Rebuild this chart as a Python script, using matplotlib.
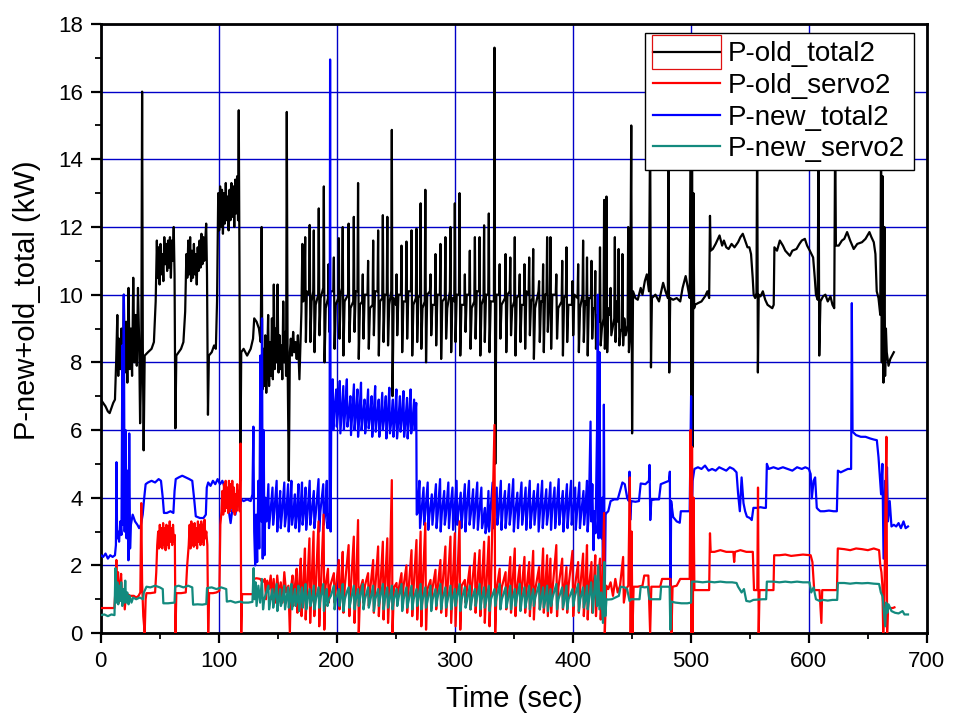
import matplotlib
matplotlib.use("Agg")
import matplotlib.pyplot as plt
import numpy as np
from matplotlib.patches import Rectangle
from matplotlib.ticker import MultipleLocator

plt.rcParams["font.family"] = ["Liberation Sans", "DejaVu Sans"]

# ---------------------------------------------------------------------------
# Data: (time in sec, power in kW)
# ---------------------------------------------------------------------------

OLD_TOTAL2 = [
    (0, 6.9), (2, 6.8), (4, 6.7), (6, 6.55), (7.5, 6.5), (9, 6.65), (10.5, 6.8), (12, 6.9),
    (13, 8.0), (14, 9.4), (14.8, 7.6), (15.5, 8.7), (16.5, 7.8), (17.5, 9.0), (18.5, 7.5),
    (19.5, 10.0), (20.5, 7.7), (21.5, 9.2), (22.5, 7.4), (23.5, 10.2), (24.5, 7.8), (25.5, 9.0),
    (26.5, 7.6), (27.5, 10.5), (28.5, 8.0), (29.5, 9.4), (30.5, 7.9), (31.5, 10.2), (32.5, 8.6),
    (33.3, 6.2), (34.3, 8.0), (35, 16.0), (35.6, 8.5), (36.3, 5.4), (37.2, 8.2), (40, 8.3),
    (43, 8.4), (45, 8.6), (46.5, 9.8), (47.5, 11.6), (48.2, 10.5), (49, 11.4), (49.8, 10.3),
    (50.6, 11.5), (51.4, 10.6), (52.2, 11.2), (53, 10.4), (53.8, 11.7), (54.6, 10.9), (55.4, 11.5),
    (56.2, 10.7), (57, 11.6), (57.8, 10.8), (58.6, 11.7), (59.4, 10.5), (60.2, 11.6), (61, 11.0),
    (61.8, 12.0), (62.5, 10.6), (63.2, 6.05), (64, 8.2), (66, 8.3), (68, 8.4), (70, 8.6),
    (71.5, 9.5), (72.5, 11.2), (73.3, 10.5), (74.1, 11.6), (74.9, 10.6), (75.7, 11.7), (76.5, 10.4),
    (77.3, 11.3), (78.1, 10.5), (78.9, 11.5), (79.7, 10.6), (80.5, 11.2), (81.3, 10.3), (82.1, 11.4),
    (82.9, 10.7), (83.7, 11.6), (84.5, 10.8), (85.3, 11.8), (86.1, 10.9), (86.9, 11.7), (87.7, 11.0),
    (88.5, 11.6), (89.3, 12.1), (90, 10.6), (90.8, 6.45), (91.6, 8.2), (94, 8.3), (96, 8.5),
    (97.5, 8.4), (98.5, 9.8), (99.5, 13.0), (100.3, 11.9), (101.1, 13.2), (101.9, 12.0),
    (102.7, 13.1), (103.5, 11.8), (104.3, 13.0), (105.1, 12.1), (105.9, 13.3), (106.7, 12.2),
    (107.5, 12.9), (108.3, 11.9), (109.1, 13.1), (109.9, 12.2), (110.7, 13.3), (111.5, 12.3),
    (112.3, 13.2), (113.1, 12.0), (113.9, 13.4), (114.7, 12.4), (115.5, 13.5), (116.3, 12.2),
    (116.9, 15.45), (117.5, 11.0), (118.2, 4.5), (119, 8.3), (121, 8.4), (124, 8.2), (127, 8.4),
    (129, 8.7), (130, 9.3), (132, 9.2), (134, 9.0), (135.5, 8.6), (136.3, 12.0), (137, 7.2),
    (137.8, 8.4), (138.6, 7.3), (139.4, 8.8), (140.2, 7.1), (141, 8.1), (141.8, 9.4), (142.6, 7.3),
    (143.4, 8.6), (144.2, 7.6), (145, 9.3), (145.8, 7.5), (146.6, 10.3), (147.4, 7.8), (148.2, 9.0),
    (149, 8.0), (149.8, 10.3), (150.6, 7.7), (151.4, 8.8), (152.2, 7.8), (153, 8.5), (153.8, 7.5),
    (154.6, 9.8), (155.4, 8.0), (156.2, 8.9), (157, 7.6), (157.6, 15.4), (158.3, 8.0), (159.3, 4.5),
    (160.2, 8.3), (161, 8.7), (162, 8.2), (163, 8.9), (164, 8.3), (165, 8.6), (166, 8.1), (167, 8.8),
    (168.3, 7.5), (169.2, 8.6), (170, 9.5), (170.8, 11.5), (171.5, 9.8), (172.5, 10.0),
    (173.2, 11.7), (173.8, 8.6), (174.6, 10.1),
    (176.5, 10.0), (177.0, 12.06), (177.6, 8.6), (178.6, 9.8),
    (180.0, 10.1), (180.5, 11.9), (181.1, 8.3), (182.1, 9.7),
    (184.2, 10.0), (184.7, 12.55), (185.3, 8.8), (186.3, 9.9),
    (188.5, 10.2), (189.0, 13.2), (189.6, 8.0), (190.6, 9.6),
    (192.5, 9.9), (193.0, 10.9), (193.6, 8.9), (194.6, 10.1),
    (197.0, 10.1), (197.5, 11.1), (198.1, 8.4), (199.1, 9.7),
    (201.2, 9.9), (201.7, 11.67), (202.3, 8.7), (203.3, 10.0),
    (204.5, 10.2), (205.0, 12.0), (205.6, 8.2), (206.6, 9.8),
    (209.5, 10.0), (210.0, 12.1), (210.6, 8.6), (211.6, 9.6),
    (213.9, 9.8), (214.4, 12.3), (215.0, 8.9), (216.0, 10.1),
    (217.5, 10.1), (218.0, 13.3), (218.6, 8.1), (219.6, 9.7),
    (221.5, 9.8), (222.0, 10.6), (222.6, 8.7), (223.6, 10.0),
    (226.0, 10.0), (226.5, 11.0), (227.1, 8.4), (228.1, 9.6),
    (230.3, 9.7), (230.8, 11.6), (231.4, 8.8), (232.4, 10.1),
    (234.5, 10.1), (235.0, 11.9), (235.6, 8.2), (236.6, 9.8),
    (238.5, 9.9), (239.0, 12.35), (239.6, 8.6), (240.6, 10.0),
    (242.3, 10.0), (242.8, 12.3), (243.4, 8.5), (244.4, 9.7),
    (246.1, 10.1), (246.6, 14.87), (247.2, 7.0), (248.2, 9.9),
    (250.1, 9.7), (250.6, 10.6), (251.2, 8.8), (252.2, 10.0),
    (254.3, 10.0), (254.8, 11.45), (255.4, 8.3), (256.4, 9.8),
    (258.5, 9.8), (259.0, 11.57), (259.6, 8.7), (260.6, 10.1),
    (262.8, 10.1), (263.3, 11.9), (263.9, 8.2), (264.9, 9.7),
    (267.0, 9.9), (267.5, 11.95), (268.1, 8.6), (269.1, 9.9),
    (270.5, 10.0), (271.0, 12.7), (271.6, 8.4), (272.6, 9.6),
    (274.5, 9.8), (275.0, 13.1), (275.6, 8.0), (276.6, 10.0),
    (278.9, 10.1), (279.4, 10.6), (280.0, 8.8), (281.0, 9.7),
    (283.1, 9.7), (283.6, 11.2), (284.2, 8.5), (285.2, 10.0),
    (287.3, 10.0), (287.8, 11.5), (288.4, 8.1), (289.4, 9.8),
    (291.5, 9.9), (292.0, 11.7), (292.6, 8.7), (293.6, 9.6),
    (295.8, 10.1), (296.3, 12.0), (296.9, 8.3), (297.9, 9.9),
    (299.5, 9.8), (300.0, 12.7), (300.6, 8.6), (301.6, 10.0),
    (303.5, 10.0), (304.0, 13.0), (304.6, 8.2), (305.6, 9.7),
    (308.0, 9.7), (308.5, 10.6), (309.1, 8.9), (310.1, 10.0),
    (312.2, 10.0), (312.7, 11.3), (313.3, 8.4), (314.3, 9.6),
    (316.5, 9.8), (317.0, 11.7), (317.6, 8.7), (318.6, 10.1),
    (320.5, 10.1), (321.0, 11.7), (321.6, 8.2), (322.6, 9.7),
    (324.3, 9.9), (324.8, 12.05), (325.4, 8.6), (326.4, 10.0),
    (328.3, 10.0), (328.8, 12.4), (329.4, 8.3), (330.4, 9.8),
    (333.1, 9.8), (333.6, 17.3), (334.3, 5.0), (335.2, 10.0),
    (337.5, 10.0), (338.0, 10.9), (338.6, 8.7), (339.6, 9.7),
    (342.5, 9.9), (343.0, 11.2), (343.6, 8.3), (344.6, 10.0),
    (346.5, 10.1), (347.0, 11.1), (347.6, 8.8), (348.6, 9.6),
    (350.3, 9.8), (350.8, 11.7), (351.4, 8.2), (352.4, 9.9),
    (354.5, 10.0), (355.0, 10.6), (355.6, 8.6), (356.6, 9.7),
    (358.5, 9.7), (359.0, 10.9), (359.6, 8.4), (360.6, 10.1),
    (362.5, 10.0), (363.0, 11.1), (363.6, 8.8), (364.6, 9.8),
    (365.9, 9.9), (366.4, 11.35), (367.0, 8.1), (368.0, 9.6),
    (370.9, 10.1), (371.4, 10.4), (372.0, 8.6), (373.0, 9.8),
    (374.3, 9.8), (374.8, 10.9), (375.4, 8.3), (376.4, 10.0),
    (377.7, 10.0), (378.2, 11.7), (378.8, 8.9), (379.8, 9.7),
    (380.5, 9.7), (381.0, 11.7), (381.6, 8.4), (382.6, 10.0),
    (385.5, 10.0), (386.0, 10.6), (386.6, 8.7), (387.6, 9.6),
    (390.5, 9.8), (391.0, 11.0), (391.6, 8.2), (392.6, 9.9),
    (394.1, 10.0), (394.6, 11.4), (395.2, 8.6), (396.2, 9.7),
    (399.2, 9.7), (399.7, 10.4), (400.3, 8.8), (401.3, 10.0),
    (404.0, 9.9), (404.5, 10.9), (405.1, 8.3), (406.1, 9.6),
    (408.2, 10.0), (408.7, 11.6), (409.3, 8.6), (410.3, 9.8),
    (411.5, 9.7), (412.0, 11.1), (412.6, 8.2), (413.6, 9.9),
    (415.3, 9.9), (415.8, 11.0), (416.4, 8.7), (417.4, 9.6),
    (418.5, 9.6), (419.0, 10.7), (419.6, 8.4), (420.6, 9.4),
    (422.5, 9.2), (423.0, 11.4), (423.6, 8.5), (424.6, 9.0),
    (426.0, 9.3), (426.5, 12.8), (427.1, 8.4), (427.9, 8.9),
    (428.5, 12.9), (429.1, 8.3), (430.0, 9.6),
    (431.5, 9.4), (432.0, 10.2), (432.6, 8.8), (433.6, 9.0),
    (435.1, 9.3), (435.6, 11.7), (436.2, 8.6), (437.2, 9.8),
    (438.3, 9.2), (438.8, 11.35), (439.4, 8.5), (440.4, 8.9),
    (441.5, 9.0), (442.0, 11.2), (442.6, 8.5), (443.6, 9.3),
    (444.8, 8.8), (446.4, 9.1), (446.9, 12.0), (447.5, 8.3), (448.5, 8.8),
    (449.5, 15.0), (450.2, 5.9), (451, 10.1), (453, 9.9), (455, 9.85), (457.5, 10.2), (459, 10.0),
    (461, 10.4), (462.7, 10.6), (464.5, 10.1), (465.5, 15.0), (466.2, 7.85), (467, 9.9),
    (470, 10.0), (473, 9.8), (476.5, 10.35), (478.5, 10.1), (480.5, 9.9), (481, 15.0),
    (481.7, 7.7), (482.5, 9.9), (485, 9.85), (488, 9.9), (491, 9.8), (493, 10.2), (495.6, 10.55),
    (497.5, 10.2), (499, 9.9), (500.0, 15.0), (500.5, 3.5), (501, 14.0), (501.6, 5.5),
    (502.2, 13.0), (502.8, 9.6), (503.5, 9.7), (506, 9.75), (509, 9.8), (512, 9.95), (514, 10.1),
    (515.5, 9.9), (516.2, 12.33), (516.8, 11.3), (518.6, 11.35), (521, 11.5), (524.3, 11.75),
    (526.5, 11.45), (528, 11.6), (530, 11.4), (532, 11.35), (534.5, 11.5), (537, 11.4),
    (540, 11.55), (542, 11.7), (544, 11.8), (546, 11.6), (548, 11.4), (549.6, 11.4), (551, 11.2),
    (552.4, 10.5), (553.2, 10.0), (554.5, 9.9), (555.6, 10.05), (556.2, 15.0), (556.8, 7.7),
    (557.5, 10.0), (559, 9.95), (561, 10.1), (563, 9.85), (565, 9.7), (567, 9.65), (569, 9.6),
    (570.2, 9.7), (570.8, 11.4), (573, 11.3), (575.4, 11.6), (578, 11.45), (580, 11.3),
    (583.9, 11.15), (586, 11.3), (589.5, 11.35), (592, 11.5), (594, 11.6), (596.6, 11.65),
    (598.5, 11.45), (600.8, 11.3), (603.6, 11.1), (605, 10.5), (606, 10.0), (607.5, 9.85),
    (608.2, 15.0), (608.8, 8.2), (609.8, 9.8), (612, 9.95), (614, 10.0), (616, 9.8),
    (618.3, 9.95), (620, 9.7), (621.5, 9.6), (622.3, 15.0), (622.9, 11.45), (625.3, 11.45),
    (628, 11.6), (630, 11.65), (632.4, 11.85), (635, 11.6), (638, 11.35), (641, 11.5),
    (645, 11.55), (648, 11.65), (651.3, 11.85), (653, 11.7), (655, 11.55), (656.4, 11.2),
    (657.5, 10.1), (659, 9.9), (660.5, 9.4), (661.2, 15.0), (661.8, 8.0), (662.5, 13.5),
    (663.2, 7.4), (664, 12.0), (664.6, 7.6), (665.3, 9.0), (666, 8.3), (667.5, 7.9),
    (669, 8.1), (670.5, 8.2), (672, 8.3),
]

OLD_SERVO2 = [
    (0, 0.74), (3, 0.74), (6, 0.74), (9, 0.74), (11.5, 0.74), (12.3, 1.2), (13.2, 2.16),
    (13.8, 1.1), (14.6, 1.8), (15.3, 0.9), (16.3, 1.4), (17.2, 1.75), (18, 1.1), (19.2, 1.3),
    (20.3, 0.7), (21.5, 1.2), (22.5, 1.15), (25, 1.1), (28, 1.1), (30, 1.05), (32, 1.1),
    (33.5, 1.2), (34.3, 3.84), (35, 1.5), (36, 0.5), (37.2, 0.0), (38, 1.0), (38.7, 1.18),
    (42, 1.18), (46, 1.2), (47, 1.8), (47.8, 2.6), (48.6, 3.0), (49.3, 2.5), (50, 3.2),
    (50.7, 2.55), (51.4, 3.1), (52.1, 2.5), (52.8, 3.25), (53.5, 2.6), (54.2, 3.1), (54.9, 2.45),
    (55.6, 3.2), (56.3, 2.6), (57, 3.15), (57.7, 2.5), (58.4, 3.3), (59.1, 2.7), (59.8, 3.1),
    (60.5, 2.6), (61.2, 3.2), (61.9, 2.7), (62.7, 2.9), (63.3, 0.0), (64, 1.18), (68, 1.18),
    (72, 1.2), (73.2, 2.0), (74.5, 2.6), (75.3, 3.2), (76, 2.5), (76.7, 3.3), (77.4, 2.6),
    (78.1, 3.2), (78.8, 2.55), (79.5, 3.25), (80.2, 2.6), (80.9, 3.1), (81.6, 2.5), (82.3, 3.3),
    (83, 2.7), (83.7, 3.2), (84.4, 2.6), (85.1, 3.3), (85.8, 2.7), (86.5, 3.2), (87.2, 2.6),
    (87.9, 3.35), (88.6, 2.8), (89.4, 3.0), (90.3, 2.6), (91, 0.0), (91.8, 1.18), (95, 1.18),
    (98, 1.2), (100.5, 1.25), (101.3, 3.2), (102.3, 3.6), (103, 4.2), (103.7, 3.5), (104.4, 4.4),
    (105.1, 3.6), (105.8, 4.5), (106.5, 3.7), (107.2, 4.3), (107.9, 3.55), (108.6, 4.5),
    (109.3, 3.6), (110, 4.4), (110.7, 3.7), (111.4, 4.5), (112.1, 3.6), (112.8, 4.3), (113.5, 3.5),
    (114.2, 4.1), (114.9, 3.6), (115.6, 4.4), (116.3, 3.8), (117, 4.2), (117.7, 3.6),
    (118.4, 5.6), (119, 0.0), (119.7, 1.15), (122, 1.15), (125, 1.15), (129, 1.15), (129.7, 1.6),
    (132, 1.62), (135, 1.6), (137, 1.5), (139, 1.6), (140, 1.0), (141, 1.55), (142.5, 1.3),
    (144, 1.7), (145, 1.0), (146.5, 1.6), (148, 0.9), (149.5, 1.7), (151, 1.1), (152.5, 1.5),
    (154, 0.9), (155.5, 1.8), (157, 1.2), (159, 1.4), (160.2, 0.0), (161, 1.3), (162.5, 1.7),
    (163, 0.8), (164.5, 1.4), (166, 1.9), (166.6, 0.6), (168, 1.4), (169.5, 2.2), (170.1, 0.5),
    (171.5, 1.4), (173, 2.5), (173.6, 0.4), (175, 1.4), (176.8, 2.8), (177.4, 0.3), (178.5, 1.4),
    (180.3, 3.0), (180.9, 0.5), (182.2, 1.4), (184.5, 3.3), (185.1, 0.2), (186.5, 1.4),
    (188.8, 3.5), (189.4, 0.1), (190.5, 1.4), (192.5, 1.9), (193.1, 0.9), (194.5, 1.4),
    (197.5, 1.77), (198.1, 0.9), (199.3, 1.35), (201.7, 2.16), (202.3, 0.7), (203.5, 1.3),
    (205, 2.4), (205.6, 0.6), (206.8, 1.4), (210, 2.6), (210.6, 0.5), (211.8, 1.3),
    (214.4, 2.85), (215, 0.3), (216.2, 1.35), (218, 3.34), (218.6, 0.0), (219.8, 1.3),
    (222, 1.57), (222.6, 0.9), (223.8, 1.4), (226.5, 1.77), (227.1, 0.8), (228.3, 1.3),
    (230.8, 2.16), (231.4, 0.6), (232.6, 1.35), (235, 2.56), (235.6, 0.5), (236.8, 1.3),
    (239, 2.7), (239.6, 0.4), (240.8, 1.4), (242.8, 2.8), (243.4, 0.3), (244.6, 1.3),
    (246.6, 4.52), (247.2, 0.0), (248.4, 1.35), (250.6, 1.48), (251.2, 0.9), (252.4, 1.3),
    (254.8, 1.77), (255.4, 0.8), (256.6, 1.4), (259, 2.0), (259.6, 0.6), (260.8, 1.3),
    (263.3, 2.45), (263.9, 0.5), (265.1, 1.35), (267.5, 2.75), (268.1, 0.4), (269.3, 1.3),
    (271, 3.0), (271.6, 0.2), (272.8, 1.4), (275, 3.25), (275.6, 0.1), (276.8, 1.3),
    (279.4, 1.57), (280, 0.9), (281.2, 1.35), (283.6, 1.87), (284.2, 0.7), (285.4, 1.3),
    (287.8, 2.16), (288.4, 0.6), (289.6, 1.4), (292, 2.56), (292.6, 0.5), (293.8, 1.3),
    (296.3, 2.85), (296.9, 0.3), (298.1, 1.35), (300, 2.95), (300.6, 0.2), (301.8, 1.3),
    (304, 3.3), (304.6, 0.1), (305.8, 1.4), (308.5, 1.57), (309.1, 0.9), (310.3, 1.3),
    (312.7, 1.97), (313.3, 0.7), (314.5, 1.35), (317, 2.36), (317.6, 0.6), (318.8, 1.3),
    (321, 2.45), (321.6, 0.5), (322.8, 1.4), (324.8, 2.7), (325.4, 0.3), (326.6, 1.3),
    (328.8, 2.85), (329.4, 0.2), (330.6, 1.35), (333.6, 6.15), (334.2, 0.0), (335.4, 1.3),
    (338, 1.9), (338.6, 0.8), (339.8, 1.35), (343, 1.8), (343.6, 0.7), (344.8, 1.3),
    (347, 2.25), (347.6, 0.6), (348.8, 1.4), (350.8, 2.5), (351.4, 0.5), (352.6, 1.3),
    (355, 2.0), (355.6, 0.7), (356.8, 1.35), (359, 2.25), (359.6, 0.6), (360.8, 1.3),
    (363, 2.1), (363.6, 0.5), (364.8, 1.4), (366.4, 2.43), (367, 0.4), (368.2, 1.3),
    (371.4, 1.95), (372, 0.7), (373.2, 1.35), (374.8, 2.5), (375.4, 0.6), (376.6, 1.3),
    (378.2, 2.3), (378.8, 0.5), (380, 1.4), (381, 2.2), (381.6, 0.6), (382.8, 1.3),
    (386, 2.6), (386.6, 0.5), (387.8, 1.35), (391, 2.2), (391.6, 0.7), (392.8, 1.3),
    (394.6, 1.95), (395.2, 0.6), (396.4, 1.4), (399.7, 2.43), (400.3, 0.5), (401.5, 1.3),
    (404.5, 2.1), (405.1, 0.6), (406.3, 1.35), (408.7, 2.35), (409.3, 0.5), (410.5, 1.3),
    (412, 2.6), (412.6, 0.4), (413.8, 1.4), (415.8, 2.1), (416.4, 0.6), (417.6, 1.3),
    (419, 2.3), (419.6, 0.5), (420.8, 1.35), (423, 2.2), (423.6, 0.4), (424.8, 1.3),
    (426.5, 3.55), (427.1, 0.0), (428.3, 1.4), (430, 1.3), (432, 1.5), (434, 1.1), (436, 1.6),
    (438, 1.2), (440, 1.4), (442.6, 2.25), (443.2, 0.9), (445, 1.3), (447, 1.4), (448.3, 4.6),
    (449, 0.0), (449.8, 3.0), (450.5, 0.0), (451.5, 1.37), (455, 1.37), (459, 1.4), (460.5, 1.7),
    (464, 1.7), (465.5, 0.0), (466.5, 1.37), (470, 1.37), (474, 1.37), (475.6, 1.6), (479, 1.6),
    (482.8, 1.6), (483.6, 0.0), (484.5, 1.37), (488, 1.4), (491, 1.6), (495, 1.6), (499, 1.6),
    (499.8, 6.0), (500.4, 0.0), (501, 5.5), (501.6, 0.0), (502.3, 4.0), (503, 1.27), (507, 1.27),
    (511, 1.27), (515.5, 1.27), (516.2, 2.95), (516.8, 2.4), (520, 2.4), (525, 2.45), (530, 2.4),
    (536, 2.4), (536.7, 2.1), (537.4, 2.4), (542, 2.45), (547, 2.4), (552.5, 2.4), (553.5, 1.27),
    (556.3, 1.27), (556.9, 4.3), (557.5, 0.0), (558.2, 1.27), (562, 1.27), (566, 1.27),
    (570, 1.27), (570.6, 2.3), (575, 2.3), (580, 2.32), (585, 2.28), (590, 2.3), (595, 2.32),
    (601.5, 2.3), (603, 2.1), (604.5, 1.27), (609, 1.27), (610.6, 0.3), (611.3, 1.27),
    (616, 1.27), (620, 1.27), (623.8, 1.27), (624.5, 2.5), (630, 2.48), (635, 2.45), (640, 2.5),
    (645, 2.48), (650, 2.45), (655, 2.5), (659.5, 2.45), (660.5, 2.0), (661.5, 1.8),
    (662.3, 1.4), (663, 0.0), (664, 1.0), (665, 4.0), (665.7, 5.8), (666.3, 0.0), (667, 0.74),
    (669, 0.74), (671, 0.74), (672.5, 0.76),
]

NEW_TOTAL2 = [
    (0, 2.3), (2, 2.25), (4, 2.35), (6, 2.2), (8, 2.3), (10, 2.25), (12, 2.3), (12.8, 2.6),
    (13.3, 5.05), (13.8, 2.8), (14.5, 3.0), (15.5, 2.7), (16.5, 3.3), (17.5, 2.9), (18.3, 8.5),
    (18.8, 3.2), (19.5, 10.0), (20.2, 3.0), (21, 6.0), (21.8, 2.8), (22.6, 4.8), (23.4, 2.15),
    (24.1, 5.9), (24.8, 2.5), (25.5, 3.2), (27, 3.5), (29, 3.3), (31, 3.2), (32.5, 3.1),
    (34, 3.2), (35.5, 3.5), (36.5, 3.9), (38, 4.4), (40, 4.45), (43, 4.5), (46, 4.45),
    (49, 4.55), (51, 4.5), (52.5, 4.0), (53.5, 3.55), (56, 3.55), (59, 3.6), (61.5, 3.55),
    (62.5, 4.2), (63.5, 4.55), (66, 4.6), (69, 4.65), (72, 4.6), (75, 4.55), (77.5, 4.5),
    (79, 4.0), (80.5, 3.45), (84, 3.4), (87, 3.4), (89, 3.5), (89.8, 4.3), (91, 4.45),
    (93, 4.35), (95, 4.5), (97, 4.4), (99, 4.55), (101, 4.4), (103, 4.5), (105, 4.3), (107, 4.0),
    (108.5, 3.6), (110, 3.25), (112, 3.8), (114, 3.5), (116, 3.9), (118, 3.7), (119, 3.95),
    (121, 3.9), (124, 3.95), (127, 3.9), (128.5, 4.1), (129.3, 6.1), (130, 3.0), (130.8, 2.0),
    (131.6, 3.5), (132.5, 2.1), (133.5, 4.5), (134.3, 2.5), (135.2, 8.2), (136, 3.3),
    (136.6, 9.3), (137.2, 2.2), (138, 6.0), (138.7, 2.3), (139.5, 4.0), (140.5, 3.3),
    (142, 4.4), (142.5, 3.1), (143.6, 3.5), (145.5, 4.3), (146, 3.2), (147.1, 3.6),
    (149, 4.5), (149.5, 3.0), (150.6, 3.5), (152, 4.2), (152.5, 3.1), (153.6, 3.55),
    (155.5, 4.45), (156, 3.15), (157.1, 3.5), (158.7, 4.4), (159.2, 3.0), (160.3, 3.6),
    (161.5, 4.5), (162, 3.2), (163.1, 3.5), (164.5, 4.1), (165, 3.1), (166.1, 3.5),
    (167.5, 4.4), (168, 3.0), (169.1, 3.55), (170.5, 4.45), (171, 3.2), (172.1, 3.6),
    (173.5, 4.3), (174, 3.05), (175.1, 3.5), (177, 4.5), (177.5, 3.2), (178.6, 3.55),
    (180.5, 4.2), (181, 3.1), (182.1, 3.5), (184.5, 4.55), (185, 3.0), (186.1, 3.6),
    (188.5, 4.4), (189, 3.2), (190.1, 3.5), (191.5, 4.5), (192, 3.1), (193.1, 3.5),
    (193.8, 3.1), (194.3, 16.95), (194.8, 3.0), (195.3, 6.6),
    (196.5, 7.5), (197, 6.0), (198, 6.6), (199.5, 7.2), (200, 6.1), (201, 6.5),
    (202.5, 7.45), (203, 5.9), (204, 6.45), (205.5, 7.3), (206, 6.0), (207, 6.5),
    (208.5, 7.5), (209, 6.1), (210, 6.4), (211.5, 7.0), (212, 5.85), (213, 6.45),
    (214.5, 7.35), (215, 6.0), (216, 6.4), (217.5, 7.2), (218, 5.8), (219, 6.35),
    (220.5, 7.4), (221, 6.0), (222, 6.4), (223.5, 6.9), (224, 5.9), (225, 6.3),
    (226.5, 7.2), (227, 6.05), (228, 6.35), (229.5, 7.0), (230, 5.8), (231, 6.3),
    (232.5, 7.3), (233, 5.95), (234, 6.35), (235.5, 6.9), (236, 5.8), (237, 6.25),
    (238.5, 7.1), (239, 6.0), (240, 6.3), (241.5, 7.0), (242, 5.75), (243, 6.3),
    (244.5, 7.25), (245, 5.9), (246, 6.2), (247.5, 6.9), (248, 5.8), (249, 6.25),
    (250.5, 7.2), (251, 5.75), (252, 6.2), (253.5, 7.0), (254, 5.95), (255, 6.3),
    (256.5, 7.15), (257, 5.8), (258, 6.2), (259.5, 6.95), (260, 5.75), (261, 6.25),
    (262.5, 7.2), (263, 5.9), (264, 6.2), (265.5, 6.9), (266, 6.0), (266.8, 6.6),
    (267.3, 6.8), (267.7, 3.5), (268.5, 3.55),
    (270, 4.5), (270.5, 3.1), (271.5, 3.5), (273.5, 4.3), (274, 3.2), (275, 3.55),
    (277, 4.45), (277.5, 3.05), (278.5, 3.5), (280.5, 4.1), (281, 3.2), (282, 3.6),
    (284, 4.4), (284.5, 3.1), (285.5, 3.5), (287.5, 4.55), (288, 3.0), (289, 3.55),
    (291, 4.2), (291.5, 3.2), (292.5, 3.5), (294.5, 4.45), (295, 3.1), (296, 3.6),
    (298, 4.3), (298.5, 3.05), (299.5, 3.5), (301.5, 4.5), (302, 3.2), (303, 3.55),
    (305, 4.15), (305.5, 3.1), (306.5, 3.5), (308.5, 4.4), (309, 3.0), (310, 3.6),
    (312, 4.5), (312.5, 3.2), (313.5, 3.5), (315.5, 4.25), (316, 3.1), (317, 3.55),
    (319, 4.45), (319.5, 3.05), (320.5, 3.5), (322.5, 4.3), (323, 3.1), (324, 3.3),
    (325.5, 3.7), (326, 2.95), (327, 3.15), (328.5, 4.2), (329, 3.0), (330, 3.5),
    (332, 4.45), (332.5, 3.1), (333.5, 3.55), (335.5, 4.3), (336, 3.2), (337, 3.5),
    (339, 4.5), (339.5, 3.05), (340.5, 3.6), (342.5, 4.2), (343, 3.1), (344, 3.5),
    (346, 4.4), (346.5, 3.2), (347.5, 3.55), (349.5, 4.55), (350, 3.0), (351, 3.5),
    (353, 4.15), (353.5, 3.1), (354.5, 3.6), (356.5, 4.45), (357, 3.2), (358, 3.5),
    (360, 4.3), (360.5, 3.05), (361.5, 3.55), (363.5, 4.5), (364, 3.1), (365, 3.5),
    (367, 4.2), (367.5, 3.2), (368.5, 3.6), (370.5, 4.4), (371, 3.0), (372, 3.5),
    (374, 4.5), (374.5, 3.1), (375.5, 3.55), (377.5, 4.25), (378, 3.2), (379, 3.5),
    (381, 4.45), (381.5, 3.05), (382.5, 3.6), (384.5, 4.3), (385, 3.1), (386, 3.5),
    (388, 4.55), (388.5, 3.2), (389.5, 3.55), (391.5, 4.2), (392, 3.0), (393, 3.5),
    (395, 4.4), (395.5, 3.1), (396.5, 3.6), (398.5, 4.5), (399, 3.2), (400, 3.5),
    (402, 4.3), (402.5, 3.05), (403.5, 3.55), (405.5, 4.45), (406, 3.1), (407, 3.5),
    (409, 4.2), (409.5, 3.2), (410.5, 3.6), (412, 4.5), (412.5, 3.0), (413.5, 3.5),
    (415, 6.25), (415.6, 3.3), (416.5, 4.4), (417.5, 2.45), (418.3, 3.6), (419.2, 2.95),
    (420.5, 6.0), (421.2, 10.0), (421.8, 2.8), (422.6, 8.3), (423.3, 3.0), (424.3, 2.8),
    (425, 4.0), (425.6, 0.6), (426.3, 6.75), (427, 1.0), (427.8, 3.5), (428.5, 3.55),
    (430, 3.6), (432, 3.9), (435, 3.95), (438, 3.95), (440, 4.2), (442, 4.45), (444, 4.4),
    (446, 4.0), (447.5, 3.9), (448, 4.77), (448.6, 3.34), (449.5, 3.9), (453, 3.88), (456, 3.9),
    (457.5, 4.42), (461.5, 4.4), (464.5, 4.5), (465, 4.97), (465.6, 3.34), (466.5, 3.93),
    (470, 3.95), (473, 3.95), (474.5, 4.4), (478, 4.45), (481.5, 4.5), (482.2, 4.77),
    (482.7, 0.4), (483.3, 3.9), (485, 3.43), (488, 3.3), (490.6, 3.26), (491.5, 3.6), (495, 3.6),
    (499, 3.6), (500.2, 7.0), (500.8, 3.5), (501.5, 4.5), (503, 4.85), (506, 4.9), (509, 4.85),
    (512, 4.95), (515, 4.8), (518, 4.85), (521, 4.8), (524, 4.9), (527, 4.85), (530, 4.8),
    (533, 4.9), (536, 4.85), (538.7, 4.75), (540, 4.13), (541.5, 3.6), (543, 4.6), (544.6, 3.84),
    (546, 3.6), (547.5, 3.44), (550, 3.4), (551.6, 3.34), (553, 3.7), (556, 3.7), (559, 3.72),
    (562, 3.7), (563.6, 3.7), (564.4, 5.0), (566, 4.85), (570, 4.9), (574, 4.85), (578, 4.9),
    (582, 4.85), (586, 4.8), (590, 4.9), (594, 4.85), (597, 4.9), (600, 4.85), (601.5, 4.7),
    (602.5, 3.98), (604, 4.5), (605.3, 4.6), (606.7, 3.7), (608, 3.65), (609.7, 3.6), (613, 3.6),
    (617, 3.62), (621, 3.6), (623.7, 3.6), (624.6, 4.8), (627, 4.75), (630, 4.8), (633, 4.85),
    (635.8, 4.85), (636.4, 9.75), (637, 5.95), (640, 5.85), (644, 5.8), (648, 5.8), (652, 5.75),
    (655, 5.72), (657.6, 5.7), (659, 5.2), (660.2, 4.6), (661.2, 4.1), (662.3, 5.0),
    (663.3, 2.2), (664.7, 4.5), (665.3, 2.95), (666.2, 4.9), (667, 3.3), (668.5, 3.9),
    (670, 3.15), (672, 3.2), (674, 3.15), (676, 3.25), (678, 3.1), (680.2, 3.3), (682, 3.1),
    (684, 3.15),
]

NEW_SERVO2 = [
    (0, 0.53), (3, 0.55), (6, 0.5), (9, 0.55), (11.6, 0.53), (12.4, 1.92), (13.2, 0.9),
    (14, 1.5), (14.8, 0.85), (15.6, 1.4), (16.5, 0.95), (17.3, 1.5), (18.2, 0.8), (19, 1.3),
    (19.8, 0.9), (20.7, 1.55), (21.5, 0.9), (22.4, 1.2), (23.5, 0.85), (24.5, 1.1), (26, 0.9),
    (27.4, 1.05), (30, 1.0), (33, 1.05), (35.8, 1.0), (36.5, 1.2), (38.7, 1.37), (42, 1.35),
    (46, 1.4), (50, 1.35), (52.5, 1.3), (53, 0.88), (57, 0.88), (62.5, 0.9), (63, 1.37),
    (66, 1.4), (70, 1.35), (74, 1.4), (77.5, 1.35), (78.2, 0.84), (82, 0.85), (86, 0.84),
    (89.4, 0.86), (90, 1.33), (94, 1.35), (98, 1.3), (102, 1.35), (106.3, 1.3), (106.8, 0.93),
    (110, 0.95), (114, 0.9), (118, 0.93), (121, 0.9), (125, 0.9), (128.5, 0.92), (129.5, 1.92),
    (130.3, 1.0), (131.2, 1.5), (132, 0.8), (133.5, 1.4), (135, 0.9), (136.5, 1.6),
    (137.5, 0.7), (138.5, 1.0),
    (142, 1.4), (142.6, 0.7), (143.8, 1.0), (145.5, 1.3), (146.1, 0.75), (147.3, 1.05),
    (149, 1.45), (149.6, 0.65), (150.8, 1.0), (152, 1.3), (152.6, 0.8), (153.8, 0.95),
    (155.5, 1.4), (156.1, 0.7), (157.3, 1.0), (158.7, 1.35), (159.3, 0.75), (160.5, 1.05),
    (161.5, 1.45), (162.1, 0.7), (163.3, 1.0), (164.5, 1.3), (165.1, 0.8), (166.3, 0.95),
    (167.5, 1.4), (168.1, 0.65), (169.3, 1.0), (170.5, 1.35), (171.1, 0.75), (172.3, 1.05),
    (173.5, 1.45), (174.1, 0.7), (175.3, 1.0), (177, 1.3), (177.6, 0.8), (178.8, 0.95),
    (180.5, 1.4), (181.1, 0.7), (182.3, 1.0), (184.5, 1.35), (185.1, 0.75), (186.3, 1.05),
    (188.5, 1.45), (189.1, 0.65), (190.3, 1.0), (191.5, 1.3), (192.1, 0.8), (193.3, 1.0),
    (195, 1.1),
    (197.5, 1.4), (198.1, 0.7), (199.3, 1.0), (201.7, 1.3), (202.3, 0.8), (203.5, 1.05),
    (205, 1.45), (205.6, 0.65), (206.8, 1.0), (208.3, 1.2), (210, 1.35), (210.6, 0.75),
    (211.8, 0.95), (214.4, 1.4), (215, 0.7), (216.2, 1.0), (218, 1.3), (218.6, 0.8),
    (219.8, 1.05), (222, 1.45), (222.6, 0.7), (223.8, 1.0), (226.5, 1.35), (227.1, 0.75),
    (228.3, 0.95), (230.8, 1.4), (231.4, 0.65), (232.6, 1.0), (235, 1.3), (235.6, 0.8),
    (236.8, 1.05), (239, 1.45), (239.6, 0.7), (240.8, 1.0), (242.8, 1.35), (243.4, 0.75),
    (244.6, 0.95), (246.6, 1.4), (247.2, 0.7), (248.4, 1.0), (250.6, 1.3), (251.2, 0.8),
    (252.4, 1.05), (254.8, 1.45), (255.4, 0.65), (256.6, 1.0), (259, 1.35), (259.6, 0.75),
    (260.8, 0.95), (263.3, 1.4), (263.9, 0.7), (265.1, 1.0), (267.5, 1.3), (268.1, 0.8),
    (269.3, 1.05), (271, 1.45), (271.6, 0.7), (272.8, 1.0), (275, 1.35), (275.6, 0.75),
    (276.8, 0.95), (279.4, 1.4), (280, 0.65), (281.2, 1.0), (283.6, 1.3), (284.2, 0.8),
    (285.4, 1.05), (287.8, 1.45), (288.4, 0.7), (289.6, 1.0), (292, 1.35), (292.6, 0.75),
    (293.8, 0.95), (296.3, 1.4), (296.9, 0.7), (298.1, 1.0), (300, 1.3), (300.6, 0.8),
    (301.8, 1.05), (304, 1.45), (304.6, 0.65), (305.8, 1.0), (308.5, 1.35), (309.1, 0.75),
    (310.3, 0.95), (312.7, 1.4), (313.3, 0.7), (314.5, 1.0), (317, 1.3), (317.6, 0.8),
    (318.8, 1.05), (321, 1.45), (321.6, 0.7), (322.8, 1.0), (324.8, 1.35), (325.4, 0.75),
    (326.6, 0.95), (328.8, 1.4), (329.4, 0.65), (330.6, 1.0), (333.6, 1.3), (334.2, 0.8),
    (335.4, 1.05), (338, 1.45), (338.6, 0.7), (339.8, 1.0), (343, 1.35), (343.6, 0.75),
    (344.8, 0.95), (347, 1.4), (347.6, 0.7), (348.8, 1.0), (350.8, 1.3), (351.4, 0.8),
    (352.6, 1.05), (355, 1.45), (355.6, 0.65), (356.8, 1.0), (359, 1.35), (359.6, 0.75),
    (360.8, 0.95), (363, 1.4), (363.6, 0.7), (364.8, 1.0), (366.4, 1.3), (367, 0.8),
    (368.2, 1.05), (371.4, 1.45), (372, 0.7), (373.2, 1.0), (374.8, 1.35), (375.4, 0.75),
    (376.6, 0.95), (378.2, 1.4), (378.8, 0.65), (380, 1.0), (381, 1.3), (381.6, 0.8),
    (382.8, 1.05), (386, 1.45), (386.6, 0.7), (387.8, 1.0), (391, 1.35), (391.6, 0.75),
    (392.8, 0.95), (394.6, 1.4), (395.2, 0.7), (396.4, 1.0), (399.7, 1.3), (400.3, 0.8),
    (401.5, 1.05), (404.5, 1.45), (405.1, 0.65), (406.3, 1.0), (408.7, 1.35), (409.3, 0.75),
    (410.5, 0.95), (412, 1.4), (412.6, 0.7), (413.8, 1.0),
    (415.5, 1.5), (417, 0.6), (419, 1.7), (420.5, 0.8), (421.5, 2.0), (422.5, 0.7), (424, 1.2),
    (425.5, 0.3), (426.7, 2.1), (427.5, 0.5), (428.5, 1.0), (430, 0.99), (433, 1.0),
    (436, 1.05), (439, 1.1), (440.5, 1.37), (444, 1.35), (446, 1.3), (448, 0.95), (449.5, 1.0),
    (453, 1.0), (456.5, 1.0), (457.5, 1.37), (461, 1.35), (463.5, 1.37), (464.8, 1.0),
    (468, 1.0), (472, 1.0), (474, 1.0), (474.8, 1.37), (479, 1.37), (482, 1.37), (482.6, 0.1),
    (483.3, 0.93), (487, 0.9), (492, 0.88), (497, 0.88), (500.2, 0.9), (500.8, 1.52),
    (505, 1.52), (510, 1.5), (515, 1.52), (520, 1.5), (525, 1.52), (530, 1.5), (535, 1.5),
    (538.7, 1.48), (540, 1.37), (543, 1.2), (545, 1.3), (547, 0.95), (550, 0.93), (553, 0.98),
    (557, 0.99), (561, 1.0), (563.8, 1.0), (564.4, 1.52), (570, 1.52), (575, 1.5), (580, 1.52),
    (585, 1.5), (590, 1.52), (595, 1.5), (600.5, 1.5), (602, 1.2), (604, 1.35), (606, 1.0),
    (609, 0.95), (612, 0.98), (616, 0.96), (620, 0.98), (624, 0.98), (624.6, 1.48), (630, 1.48),
    (635, 1.46), (640, 1.48), (645, 1.47), (650, 1.48), (655, 1.46), (659.5, 1.45), (661, 1.2),
    (662.5, 1.08), (664, 0.5), (664.7, 0.2), (665.5, 0.9), (666.5, 0.6), (667.5, 0.85),
    (670, 0.65), (673, 0.6), (676, 0.58), (679.4, 0.65), (681, 0.55), (684, 0.55),
]

SERIES_LABELS = ["P-old_total2", "P-old_servo2", "P-new_total2", "P-new_servo2"]
SERIES_COLORS = ["#000000", "#ff0000", "#0000ff", "#138a7e"]
X_TICKS = [0, 100, 200, 300, 400, 500, 600, 700]
Y_TICKS = [0, 2, 4, 6, 8, 10, 12, 14, 16, 18]

GRID_COLOR = "#0000c8"

# ---------------------------------------------------------------------------
# Figure
# ---------------------------------------------------------------------------

fig = plt.figure(figsize=(9.6, 7.26), dpi=100)
ax = fig.add_axes([0.105, 0.128, 0.8605, 0.839])

series = [OLD_TOTAL2, OLD_SERVO2, NEW_TOTAL2, NEW_SERVO2]
zorders = [2, 4, 3, 5]
for pts, label, color, z in zip(series, SERIES_LABELS, SERIES_COLORS, zorders):
    arr = np.array(pts)
    ax.plot(arr[:, 0], arr[:, 1], color=color, lw=1.6, label=label, zorder=z)

ax.set_xlim(X_TICKS[0], X_TICKS[-1])
ax.set_ylim(Y_TICKS[0], Y_TICKS[-1])
ax.set_xticks(X_TICKS)
ax.set_yticks(Y_TICKS)
ax.xaxis.set_minor_locator(MultipleLocator(50))
ax.yaxis.set_minor_locator(MultipleLocator(1))
ax.grid(True, which="major", color=GRID_COLOR, lw=1.0, zorder=1)

for sp in ax.spines.values():
    sp.set_linewidth(2.0)
ax.tick_params(which="major", direction="out", length=7, width=1.6, labelsize=16,
               top=False, right=False, pad=6)
ax.tick_params(which="minor", direction="out", length=4, width=1.3,
               top=False, right=False)

ax.set_xlabel("Time (sec)", fontsize=21)
ax.set_ylabel("P-new+old_total (kW)", fontsize=21)
# label anchors: top edge of the x label, right (baseline) edge of the y label
ax.xaxis.set_label_coords(0.501, -0.085)
ax.yaxis.set_label_coords(-0.072, 0.547)

leg = ax.legend(loc="upper right", bbox_to_anchor=(0.984, 0.985), fontsize=20,
                frameon=True, fancybox=False, framealpha=1.0, edgecolor="black",
                borderaxespad=0.0, handlelength=2.4, handletextpad=0.3,
                labelspacing=0.2, borderpad=0.3)
leg.get_frame().set_linewidth(1.0)
leg.set_zorder(10)

# thin red selection box drawn around the first legend handle
fig.canvas.draw()
renderer = fig.canvas.get_renderer()
hb = leg.legend_handles[0].get_window_extent(renderer)
x0, x1 = hb.x0 - 1, hb.x1 + 1
yc = 0.5 * (hb.y0 + hb.y1)
inv = fig.transFigure.inverted()
(fx0, fy0), (fx1, fy1) = inv.transform([(x0, yc - 17), (x1, yc + 17)])
fig.add_artist(Rectangle((fx0, fy0), fx1 - fx0, fy1 - fy0, transform=fig.transFigure,
                         fill=False, edgecolor="#e01010", lw=0.9, zorder=20))

fig.savefig("out.png", dpi=100)
